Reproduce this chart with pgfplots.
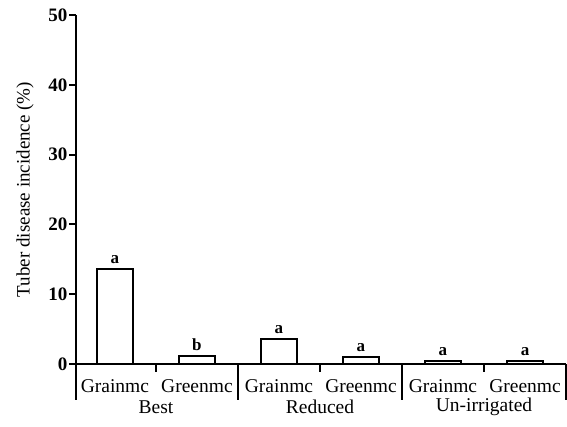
\documentclass[border=0pt]{standalone}
\usepackage{fontspec}
\setmainfont{Liberation Serif}
\usepackage{pgfplots}
\pgfplotsset{compat=1.18}
\begin{document}
\begin{tikzpicture}[x=1pt,y=1pt]
\useasboundingbox (0,0) rectangle (567,426);
\begin{axis}[
  at={(76pt,62pt)}, anchor=south west,
  scale only axis, width=490pt, height=349pt,
  xmin=-0.475, xmax=5.5, ymin=0, ymax=50,
  axis lines=left,
  axis line style={-, line width=2pt},
  clip=false,
  ytick={0,10,...,50},
  tick align=outside,
  major tick length=7pt,
  every tick/.style={line width=2pt, black},
  xtick={0,...,5},
  xticklabels={Grainmc,Greenmc,Grainmc,Greenmc,Grainmc,Greenmc},
  major x tick style={draw=none},
  x tick label style={font=\fontsize{19.5}{22}\selectfont, yshift=-5pt},
  y tick label style={font=\fontsize{19}{22}\selectfont\bfseries, inner sep=1.5pt},
  /pgf/number format/assume math mode=true,
  ylabel={Tuber disease incidence (\%)},
  ylabel style={font=\fontsize{19}{22}\selectfont, at={(axis description cs:-0.104,0.5)}, anchor=center},
  ybar, bar width=36pt,
  nodes near coords,
  point meta=explicit symbolic,
  every node near coord/.style={font=\fontsize{17}{20}\selectfont\bfseries, anchor=south, yshift=1pt},
]
\addplot[draw=black, fill=white, line width=2pt]
  coordinates {(0,13.6)[a] (1,1.2)[b] (2,3.6)[a] (3,1.0)[a] (4,0.4)[a] (5,0.4)[a]};
% group separators below the axis
\draw[line width=2pt] (axis cs:-0.475,0) -- ++(0pt,-36pt);
\draw[line width=2pt] (axis cs:0.5,0) -- ++(0pt,-8pt);
\draw[line width=2pt] (axis cs:1.5,0) -- ++(0pt,-36pt);
\draw[line width=2pt] (axis cs:2.5,0) -- ++(0pt,-8pt);
\draw[line width=2pt] (axis cs:3.5,0) -- ++(0pt,-36pt);
\draw[line width=2pt] (axis cs:4.5,0) -- ++(0pt,-8pt);
\draw[line width=2pt] (axis cs:5.5,0) -- ++(0pt,-36pt);
\node[font=\fontsize{19.5}{22}\selectfont] at (axis cs:0.5,0) [yshift=-43pt] {Best};
\node[font=\fontsize{19.5}{22}\selectfont] at (axis cs:2.5,0) [yshift=-43pt] {Reduced};
\node[font=\fontsize{19.5}{22}\selectfont] at (axis cs:4.5,0) [yshift=-43pt] {Un-irrigated};
\end{axis}
\end{tikzpicture}
\end{document}
